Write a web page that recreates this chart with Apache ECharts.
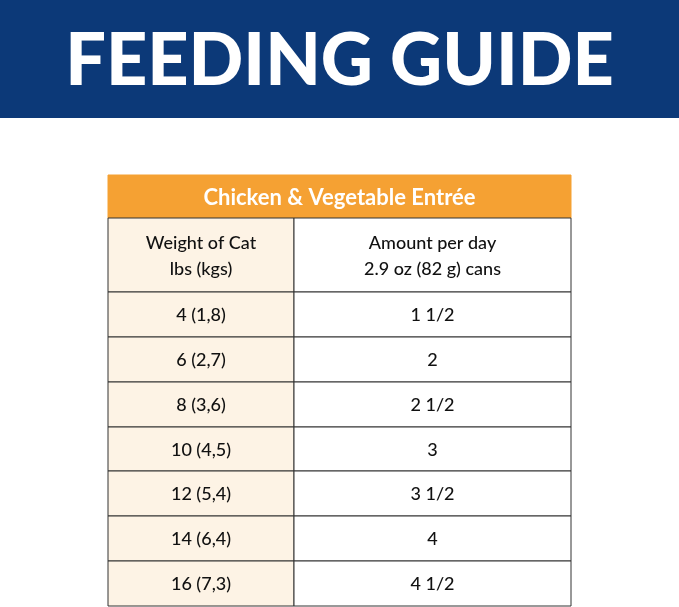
<!DOCTYPE html>
<html lang="en">
  <head>
    <meta charset="UTF-8" />
    <title>Feeding Guide</title>
    <script src="https://cdn.jsdelivr.net/npm/echarts@6/dist/echarts.min.js"></script>
    <style>html,body{margin:0;padding:0;background:#fff}</style>
  </head>
  <body>
    <div id="main" style="width:679px;height:607px;"></div>
    <script>
      // table content
      var titleText = 'FEEDING GUIDE';
      var productName = 'Chicken & Vegetable Entrée';
      var headLeft = 'Weight of Cat\nlbs (kgs)';
      var headRight = 'Amount per day\n2.9 oz (82 g) cans';
      var weights = ['4 (1,8)', '6 (2,7)', '8 (3,6)', '10 (4,5)', '12 (5,4)', '14 (6,4)', '16 (7,3)'];
      var amounts = ['1 1/2', '2', '2 1/2', '3', '3 1/2', '4', '4 1/2'];

      // layout (pixels inside the table)
      var colEdges = [0, 186, 463];
      var rowHeights = [43, 74, 45, 45, 45, 44, 45, 45, 45];
      var rowEdges = [0];
      rowHeights.forEach(function (h, i) { rowEdges.push(rowEdges[i] + h); });

      // cells: [col0, col1, row, text, kind]
      var cells = [[0, 2, 0, productName, 'title']];
      cells.push([0, 1, 1, headLeft, 'left']);
      cells.push([1, 2, 1, headRight, 'right']);
      weights.forEach(function (w, i) {
        cells.push([0, 1, i + 2, w, 'left']);
        cells.push([1, 2, i + 2, amounts[i], 'right']);
      });

      var fills = { title: '#f5a133', left: '#fdf3e5', right: '#ffffff' };

      function renderItem(params, api) {
        var c = cells[params.dataIndex];
        var p0 = api.coord([colEdges[c[0]], rowEdges[c[2]]]);
        var p1 = api.coord([colEdges[c[1]], rowEdges[c[2] + 1]]);
        var isTitle = c[4] === 'title';
        return {
          type: 'group',
          children: [{
            type: 'rect',
            shape: { x: p0[0], y: p0[1], width: p1[0] - p0[0], height: p1[1] - p0[1] },
            style: { fill: fills[c[4]], stroke: isTitle ? fills.title : '#333', lineWidth: 1 }
          }, {
            type: 'text',
            style: {
              x: (p0[0] + p1[0]) / 2, y: (p0[1] + p1[1]) / 2 + 1,
              text: c[3], align: 'center', verticalAlign: 'middle',
              fill: isTitle ? '#fff' : '#111',
              font: (isTitle ? 'bold 22px' : '500 18px') + ' Lato, "Noto Sans", sans-serif',
              lineHeight: 26
            }
          }]
        };
      }

      var myChart = echarts.init(document.getElementById('main'));
      myChart.setOption({
        animation: false,
        backgroundColor: '#fff',
        graphic: [{
          type: 'rect', left: 0, top: 0, z: 0,
          shape: { width: 679, height: 118 },
          style: { fill: '#0c3978' }
        }, {
          type: 'text', left: 'center', top: 26, z: 1,
          style: { text: titleText, fill: '#fff', font: '900 72px Lato, "Noto Sans", sans-serif' }
        }],
        grid: { left: 108, top: 175, width: 463, height: 431 },
        xAxis: { type: 'value', min: 0, max: 463, show: false },
        yAxis: { type: 'value', min: 0, max: rowEdges[rowEdges.length - 1], inverse: true, show: false },
        series: [{
          type: 'custom',
          renderItem: renderItem,
          data: cells.map(function (c, i) { return [i]; })
        }]
      });
    </script>
  </body>
</html>
